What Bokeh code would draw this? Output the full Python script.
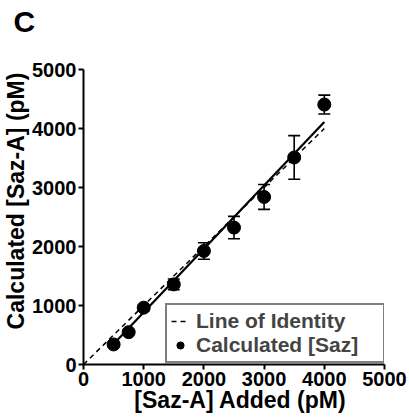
import numpy as np
from bokeh.plotting import figure
from bokeh.models import (Range1d, Whisker, TeeHead, ColumnDataSource, Legend, LegendItem,
                          FixedTicker)
from bokeh.embed import file_html
from bokeh.resources import INLINE

# ---- data ----
added = [500, 750, 1000, 1500, 2000, 2500, 3000, 3500, 4000]
calculated = [340, 548, 963, 1358, 1924, 2321, 2840, 3509, 4406]
err = [40, 35, 50, 90, 140, 190, 210, 370, 160]
identity_x = [0, 4000]
fit_slope = 1.075
fit_intercept = -190
fit_x = [500, 4000]
ticks = [0, 1000, 2000, 3000, 4000, 5000]

FONT = "Liberation Sans"
NBSP = "\u00a0"

p = figure(width=409, height=417, output_backend="svg", toolbar_location=None,
           x_range=Range1d(0, 5000), y_range=Range1d(0, 5000),
           min_border_left=83, min_border_right=25, min_border_top=69, min_border_bottom=53,
           title="C\n")
p.outline_line_color = None
p.grid.visible = False
p.background_fill_color = "white"

p.title.text_font = FONT
p.title.text_font_style = "bold"
p.title.text_font_size = "30px"
p.title.text_color = "black"
p.title.text_line_height = 0.9
p.title.align = "left"
p.title.offset = -70
p.title.standoff = 4

for ax in (p.xaxis[0], p.yaxis[0]):
    ax.ticker = FixedTicker(ticks=ticks)
    ax.minor_tick_line_color = None
    ax.axis_line_width = 2
    ax.major_tick_line_width = 2
    ax.major_tick_out = 5
    ax.major_tick_in = 0
    ax.major_label_text_font = FONT
    ax.major_label_text_font_style = "bold"
    ax.major_label_text_font_size = "20px"
    ax.major_label_text_color = "black"
    ax.axis_label_text_font = FONT
    ax.axis_label_text_font_style = "bold"
    ax.axis_label_text_color = "black"
    ax.axis_label_text_font_size = "23px"
p.xaxis.major_label_standoff = 2
p.yaxis.major_label_standoff = 2
p.xaxis.axis_label_standoff = -2
p.yaxis.axis_label_standoff = 0
p.xaxis.axis_label = NBSP * 2 + "[Saz-A] Added (pM)"
p.yaxis.axis_label = NBSP * 5 + "Calculated [Saz-A] (pM)"

# identity line
r_id = p.line(identity_x, identity_x, line_color="black", line_width=1.5, line_dash="5 4")
# fitted line
fit_y = [fit_slope * v + fit_intercept for v in fit_x]
p.line(fit_x, fit_y, line_color="black", line_width=2.2)

src = ColumnDataSource(dict(x=added, y=calculated,
                            lo=[c - e for c, e in zip(calculated, err)],
                            hi=[c + e for c, e in zip(calculated, err)]))
w = Whisker(source=src, base="x", lower="lo", upper="hi", line_color="black", line_width=1.6,
            upper_head=TeeHead(size=12, line_width=1.6, line_color="black"),
            lower_head=TeeHead(size=12, line_width=1.6, line_color="black"))
p.add_layout(w)
r_pts = p.scatter("x", "y", source=src, size=13, fill_color="black", line_color="black")

legend = Legend(items=[LegendItem(label="Line of Identity", renderers=[r_id]),
                       LegendItem(label="Calculated [Saz]", renderers=[r_pts])],
                location=(82, 1), padding=4, spacing=0, glyph_width=18, glyph_height=22,
                label_height=22, label_width=183, label_standoff=7,
                label_text_font=FONT, label_text_font_style="bold", label_text_font_size="21px",
                border_line_color="black", border_line_width=2, background_fill_color="white",
                background_fill_alpha=1.0)
p.add_layout(legend)

open("out.html", "w").write(file_html(p, INLINE))
